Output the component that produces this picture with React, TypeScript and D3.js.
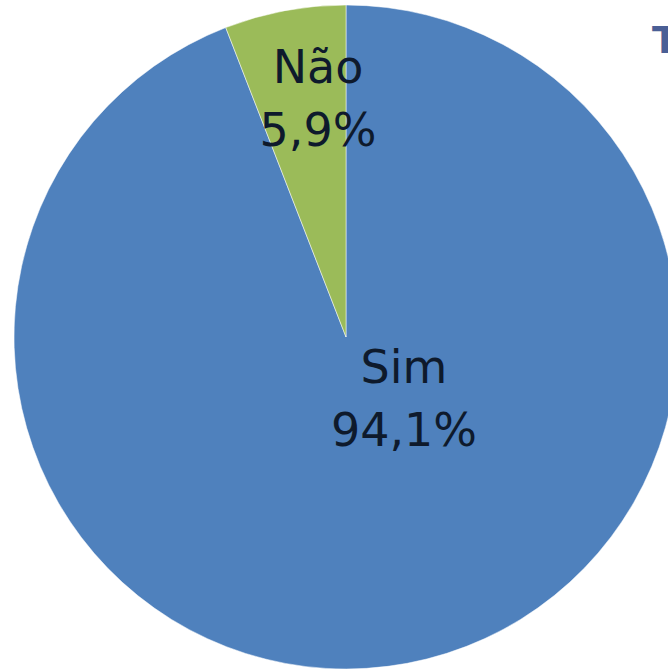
import * as d3 from "d3";

const categories = ["Sim", "Não"];
const values = [94.1, 5.9];
const valueLabels = ["94,1%", "5,9%"];
const colors = ["#4F81BD", "#9BBB59"];

const width = 668;
const height = 672;
const cx = 346;
const cy = 337;
const radius = 332;

// Excel-style label placement (offset from centre, per slice)
const labelOffsets: [number, number][] = [
  [58, 46],
  [-28, -254],
];

export default function App() {
  const pie = d3
    .pie<number>()
    .sort(null)
    .value((d) => d);
  const arcs = pie(values);
  const arc = d3.arc<d3.PieArcDatum<number>>().innerRadius(0).outerRadius(radius);

  return (
    <div style={{ position: "absolute", left: 0, top: 0 }}>
      <svg width={width} height={height} style={{ display: "block", background: "#fff" }}>
        <g transform={`translate(${cx},${cy})`}>
          {arcs.map((a, i) => (
            <path
              key={categories[i]}
              d={arc(a) || ""}
              fill={colors[i]}
              stroke="#fff"
              strokeWidth={1}
              strokeOpacity={0.5}
            />
          ))}
          {arcs.map((a, i) => (
            <text
              key={"l" + i}
              x={labelOffsets[i][0]}
              y={labelOffsets[i][1]}
              textAnchor="middle"
              fontFamily="'DejaVu Sans', Verdana, sans-serif"
              fontSize={46}
              fill="#0e1a2c"
            >
              <tspan x={labelOffsets[i][0]} dy={0}>
                {categories[i]}
              </tspan>
              <tspan x={labelOffsets[i][0]} dy={63}>
                {valueLabels[i]}
              </tspan>
            </text>
          ))}
        </g>
        <text
          x={652}
          y={53}
          fontFamily="'DejaVu Sans', Verdana, sans-serif"
          fontWeight="bold"
          fontSize={38}
          fill="#4a5f96"
        >
          T
        </text>
      </svg>
    </div>
  );
}
